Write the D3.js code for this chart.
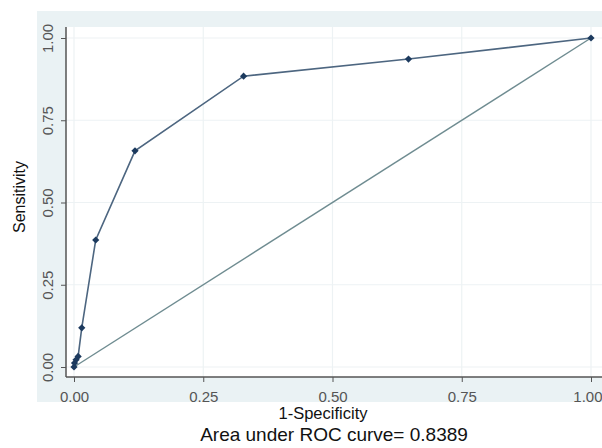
<!DOCTYPE html>
<html><head><meta charset="utf-8">
<script src="https://cdn.jsdelivr.net/npm/d3@7"></script>
<style>body{margin:0;background:#fff}svg{display:block;font-family:"Liberation Sans",Arial,sans-serif}</style>
</head><body><svg id="c" width="602" height="448"></svg>
<script>
const fpr = [0, 0.001, 0.004, 0.008, 0.015, 0.042, 0.118, 0.328, 0.647, 1];
const tpr = [0, 0.012, 0.022, 0.032, 0.119, 0.386, 0.657, 0.884, 0.936, 1];
const ticks = [0, 0.25, 0.5, 0.75, 1];
const tickLabels = ["0.00", "0.25", "0.50", "0.75", "1.00"];
const auc = "0.8389";

const svg = d3.select("#c");
const x = d3.scaleLinear().domain([0, 1]).range([74, 591]);
const y = d3.scaleLinear().domain([0, 1]).range([367, 38]);

// outer band
svg.append("rect").attr("x", 37).attr("y", 11).attr("width", 565).attr("height", 391).attr("fill", "#eaf2f4");
// plot region
svg.append("rect").attr("x", 66).attr("y", 27).attr("width", 536).attr("height", 350).attr("fill", "#ffffff");

// grid
svg.append("g").selectAll("line.gx").data(ticks).join("line")
  .attr("x1", d => x(d)).attr("x2", d => x(d)).attr("y1", 27).attr("y2", 377)
  .attr("stroke", "#edf2f4").attr("stroke-width", 1.2);
svg.append("g").selectAll("line.gy").data(ticks).join("line")
  .attr("y1", d => y(d)).attr("y2", d => y(d)).attr("x1", 66).attr("x2", 602)
  .attr("stroke", "#edf2f4").attr("stroke-width", 1.2);

// axes
const xAxis = d3.axisBottom(x).tickValues(ticks).tickFormat((d, i) => tickLabels[i]).tickSize(5).tickPadding(4);
const gx = svg.append("g").attr("transform", "translate(0,377)").call(xAxis);
gx.select(".domain").attr("d", "M66,0H602").attr("stroke", "#555").attr("stroke-width", 1.5);
gx.selectAll(".tick line").attr("stroke", "#555");
gx.selectAll(".tick text").attr("fill", "#555").attr("font-size", 15).attr("font-family", "Liberation Sans, Arial, sans-serif")
  .attr("dy", 0).attr("y", 25);
gx.selectAll(".tick text").filter(d => d === 1).attr("text-anchor", "end").attr("x", 11);

const yAxis = d3.axisLeft(y).tickValues(ticks).tickFormat((d, i) => tickLabels[i]).tickSize(5).tickPadding(4);
const gy = svg.append("g").attr("transform", "translate(66,0)").call(yAxis);
gy.select(".domain").attr("d", "M0,27V377").attr("stroke", "#555").attr("stroke-width", 1.5);
gy.selectAll(".tick line").attr("stroke", "#555");
gy.selectAll(".tick text").attr("fill", "#555").attr("font-size", 15).attr("font-family", "Liberation Sans, Arial, sans-serif")
  .attr("text-anchor", "middle").attr("dy", 0).attr("x", 0)
  .attr("transform", "translate(-13,0) rotate(-90)");

// diagonal reference
svg.append("line").attr("x1", x(0)).attr("y1", y(0)).attr("x2", x(1)).attr("y2", y(1))
  .attr("stroke", "#6f8c91").attr("stroke-width", 1.4);

// ROC curve
const pts = fpr.map((d, i) => [d, tpr[i]]);
svg.append("path").attr("d", d3.line().x(d => x(d[0])).y(d => y(d[1]))(pts))
  .attr("fill", "none").attr("stroke", "#4d6680").attr("stroke-width", 1.6);
svg.append("g").selectAll("path").data(pts).join("path")
  .attr("d", d3.symbol(d3.symbolSquare, 26)())
  .attr("transform", d => `translate(${x(d[0])},${y(d[1])}) rotate(45)`)
  .attr("fill", "#1c3a5e");

// labels
svg.append("text").attr("x", 323).attr("y", 419).attr("text-anchor", "middle").attr("font-size", 16.5).attr("fill", "#111").text("1-Specificity");
svg.append("text").attr("x", 334).attr("y", 441).attr("text-anchor", "middle").attr("font-size", 19).attr("fill", "#111").text("Area under ROC curve= " + auc);
svg.append("text").attr("transform", "translate(25,197) rotate(-90)").attr("text-anchor", "middle").attr("font-size", 16).attr("fill", "#111").text("Sensitivity");
</script></body></html>
